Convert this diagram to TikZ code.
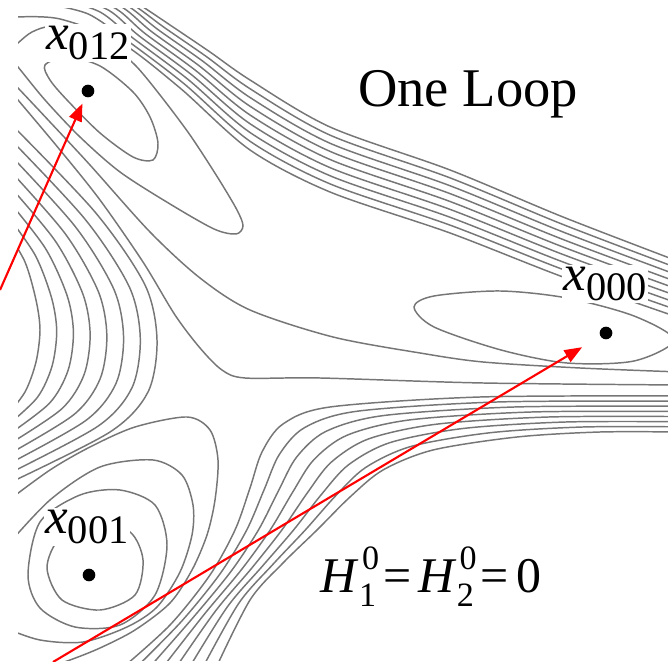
\documentclass[tikz,border=0pt]{standalone}
\usepackage{fontspec}
\setmainfont{Liberation Serif}
\usepackage{tikz}
\usetikzlibrary{arrows.meta}
\definecolor{loopgray}{HTML}{767676}
\definecolor{loopred}{HTML}{FF0000}
\newcommand{\wellx}[1]{\textit{x}\raisebox{-2.8pt}{\fontsize{11.5}{12}\selectfont #1}}
\newcommand{\hzero}[1]{\textit{H}\rlap{\hspace{0.8pt}\raisebox{6.5pt}{\fontsize{9.7}{10}\selectfont 0}}\raisebox{-4pt}{\fontsize{9.7}{10}\selectfont #1}}

\begin{document}
\begin{tikzpicture}[
  x=0.01cm, y=-0.01cm,
  lvl/.style={draw=loopgray, line width=0.42pt},
  dot/.style={circle, fill=black, inner sep=0pt, minimum size=3.6pt},
  arr/.style={-{Triangle[length=5pt, width=3.8pt]}, draw=loopred, line width=0.6pt},
  lab/.style={fill=white, inner sep=0.5pt},
]
\useasboundingbox (0,0) rectangle (668,662);
\begin{scope}
\clip (18,9) rectangle (668,660);
% outer band, top left to right edge
\foreach \s in {0,0.125,...,1} {
  \pgfmathsetmacro{\r}{sqrt(\s)}
  \draw[lvl] plot[smooth] coordinates {({18+82*\r},{17-37*\r}) ({60+80*\r},{19-14*\r})
    ({120+50*\s},{42-17*\s}) ({180+30*\s},{88-36*\s}) (250,{150-70*\s}) (330,{192-65*\s})
    (450,{233-63*\s}) (563,{277-60*\s}) (680,{318-56*\s})};
}
% well x012
\draw[lvl] plot[smooth cycle] coordinates {(45,65) (67,57) (100,66) (133,92) (150,117)
  (158,143) (153,160) (133,157) (100,133) (67,100) (50,80)};
\draw[lvl] plot[smooth] coordinates {(5,55) (18,43) (32,32) (52,26) (82,30) (110,45)
  (135,65) (160,95) (190,135) (218,178) (237,210) (243,226) (236,234) (214,229)
  (170,204) (120,172) (80,137) (45,100) (18,67) (5,52)};
% well x000
\draw[lvl] plot[smooth cycle] coordinates {(414,307) (434,296) (500,291) (567,298)
  (634,316) (674,340) (634,361) (567,363) (501,350) (434,327)};
\draw[lvl] plot[smooth] coordinates {(5,75) (18,88) (50,122) (90,165) (150,232) (200,278)
  (250,310) (333,337) (420,353) (483,362) (580,368) (680,372)};
\draw[lvl] plot[smooth] coordinates {(5,85) (18,100) (60,150) (100,200) (143,262) (175,315)
  (200,348) (222,370) (245,378) (320,378) (483,383) (680,385)};
% left saddle
\foreach \k in {0,...,7} {
  \pgfmathsetmacro{\s}{\k/7}
  \draw[lvl] plot[smooth] coordinates {(5,{228-110*\s}) ({25+70*\s},{262-50*\s})
    ({36+109*\s},{300-15*\s}) ({40+117*\s},{330+10*\s}) ({36+112*\s},{362+30*\s})
    ({25+85*\s},{392+40*\s}) (5,{418+67*\s})};
}
% well x001
\draw[lvl] plot[smooth cycle] coordinates {(47,568) (60,538) (95,524) (130,532) (143,560)
  (135,595) (100,610) (62,600)};
\draw[lvl] plot[smooth cycle] coordinates {(28,575) (40,522) (80,495) (120,490) (155,505)
  (167,545) (155,595) (120,625) (75,627) (40,608)};
\draw[lvl] plot[smooth] coordinates {(5,548) (50,500) (100,467) (153,460) (182,475)
  (193,505) (192,535) (180,572) (157,607) (127,627) (83,642) (40,640) (5,628)};
\draw[lvl] plot[smooth] coordinates {(5,503) (50,470) (90,447) (135,427) (187,417)
  (210,430) (218,460) (215,500) (207,535) (192,570) (170,603) (135,630) (100,648)
  (70,660) (40,670)};
% band from the bottom to the right edge
\foreach \k in {0,...,7} {
  \pgfmathsetmacro{\s}{\k/7}
  \draw[lvl] plot[smooth] coordinates {({120+95*\s},670) ({170+80*\s},{625-25*\s})
    ({210+73*\s},{575-12*\s}) ({235+82*\s},530) ({250+100*\s},{488+9*\s})
    ({262+121*\s},{452+18*\s}) ({283+150*\s},{424+26*\s}) ({330+187*\s},{407+30*\s})
    ({480+120*\s},{397+35*\s}) (680,{396+36*\s})};
}
\end{scope}
\node[dot] (w012) at (88,91) {};
\node[dot] (w000) at (606,333) {};
\node[dot] (w001) at (89,575) {};
\node[lab, font=\fontsize{14.5}{16}\selectfont] (l012) at (88,43) {\wellx{012}};
\node[lab, font=\fontsize{14.5}{16}\selectfont] (l000) at (605,284) {\wellx{000}};
\node[lab, font=\fontsize{14.5}{16}\selectfont] (l001) at (87,527) {\wellx{001}};
\node[font=\fontsize{15.5}{18}\selectfont] (title) at (468,94) {One Loop};
\node[font=\fontsize{14.2}{16}\selectfont] (cond) at (431,577)
  {\hzero{1}\kern2pt=\kern2pt\hzero{2}\kern2pt=\kern2pt0};
\coordinate (tailA) at (0,290);
\coordinate (tailB) at (53,662);
\draw[arr, shorten >=1.9pt] (tailA) -- (w012);
\draw[arr, shorten >=5.9pt] (tailB) -- (w000);
\end{tikzpicture}
\end{document}
